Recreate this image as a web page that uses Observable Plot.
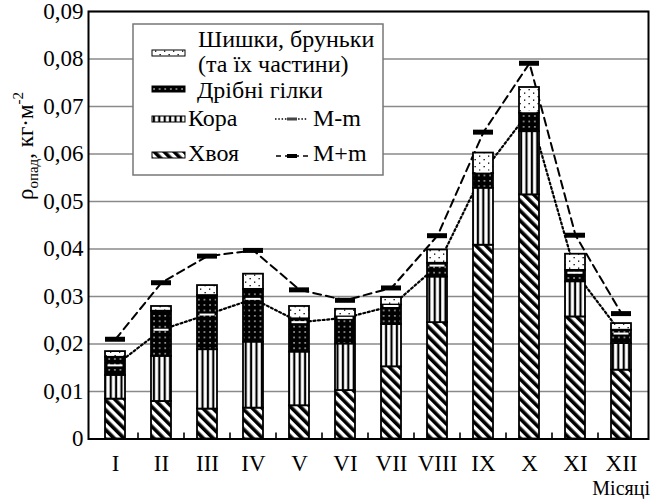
<!DOCTYPE html>
<html><head><meta charset="utf-8">
<script src="https://cdn.jsdelivr.net/npm/d3@7"></script>
<script src="https://cdn.jsdelivr.net/npm/@observablehq/plot@0.6"></script>
<style>
body{margin:0;background:#fff}
#chart{position:relative;width:654px;height:499px}
#chart svg, #chart svg text, #chart svg tspan { font-family: "Liberation Serif", "Times New Roman", serif !important; }
</style>
</head><body><div id="chart"></div>
<script>
// ---- data ----
const months = ["I","II","III","IV","V","VI","VII","VIII","IX","X","XI","XII"];
const hvoya   = [0.0084,0.0079,0.0063,0.0065,0.0070,0.0102,0.0152,0.0245,0.0408,0.0514,0.0257,0.0145];
const kora    = [0.0050,0.0095,0.0125,0.0139,0.0113,0.0098,0.0089,0.0096,0.0120,0.0133,0.0074,0.0056];
const gilky   = [0.0038,0.0095,0.0114,0.0111,0.0070,0.0057,0.0041,0.0029,0.0031,0.0039,0.0024,0.0028];
const shyshky = [0.0012,0.0010,0.0021,0.0032,0.0026,0.0016,0.0016,0.0028,0.0043,0.0054,0.0034,0.0014];
const mMinus  = [0.0155,0.0230,0.0262,0.0295,0.0246,0.0255,0.0280,0.0365,0.0563,0.0690,0.0350,0.0222];
const mPlus   = [0.0210,0.0329,0.0385,0.0397,0.0314,0.0292,0.0318,0.0428,0.0646,0.0791,0.0429,0.0264];
const yTicks  = [0,0.01,0.02,0.03,0.04,0.05,0.06,0.07,0.08,0.09];
const parts   = ["Хвоя","Кора","Дрібні гілки","Шишки, бруньки (та їх частини)"];
const partValues = [hvoya, kora, gilky, shyshky];
const partFills  = ["url(#p-hvoya)","url(#p-kora)","url(#p-gilky)","url(#p-shyshky)"];

const stacked = parts.flatMap((p, j) => months.map((m, i) => ({month: m, part: p, value: partValues[j][i]})));
const stats = months.map((m, i) => ({month: m, lo: mMinus[i], hi: mPlus[i]}));
const fmt = d => d === 0 ? "0" : d.toFixed(2).replace(".", ",");

const plot = Plot.plot({
  width: 654, height: 499,
  marginTop: 11, marginBottom: 60.5, marginLeft: 88, marginRight: 6,
  style: {fontFamily: "Liberation Serif, serif", fontSize: "23px", background: "white", color: "black"},
  x: {domain: months, paddingInner: 0.57, paddingOuter: 0.285, label: null, tickSize: 0, tickPadding: 16},
  y: {domain: [0, 0.09], ticks: yTicks, tickFormat: fmt, label: null, tickSize: 0, tickPadding: 5},
  color: {domain: parts, range: partFills},
  marks: [
    Plot.ruleY(yTicks, {stroke: "#8a8a8a", strokeWidth: 1.6}),
    Plot.line(stats, {x: "month", y: "hi", stroke: "black", strokeWidth: 2, strokeDasharray: "8,5"}),
    Plot.line(stats, {x: "month", y: "lo", stroke: "black", strokeWidth: 2.2, strokeDasharray: "2,2.6"}),
    Plot.barY(stacked, Plot.stackY({x: "month", y: "value", fill: "part", stroke: "black", strokeWidth: 1.8})),
    Plot.tickY(stats, {x: "month", y: "lo", stroke: "white", strokeWidth: 2, insetLeft: 2.5, insetRight: 2.5}),
    Plot.tickY(stats, {x: "month", y: "hi", stroke: "black", strokeWidth: 5}),
    Plot.frame({stroke: "black", strokeWidth: 2})
  ]
});

const svg = d3.select(plot);
const defs = svg.insert("defs", ":first-child");
// Хвоя: diagonal stripes
let p = defs.append("pattern").attr("id","p-hvoya").attr("patternUnits","userSpaceOnUse")
  .attr("width",7).attr("height",7).attr("patternTransform","rotate(-45)");
p.append("rect").attr("width",7).attr("height",7).attr("fill","white");
p.append("rect").attr("width",3.6).attr("height",7).attr("fill","black");
// Кора: vertical stripes
p = defs.append("pattern").attr("id","p-kora").attr("patternUnits","userSpaceOnUse").attr("width",5.4).attr("height",6);
p.append("rect").attr("width",5.4).attr("height",6).attr("fill","white");
p.append("rect").attr("x",1.6).attr("width",2.2).attr("height",6).attr("fill","black");
// Дрібні гілки: black with white dots
p = defs.append("pattern").attr("id","p-gilky").attr("patternUnits","userSpaceOnUse").attr("width",5.6).attr("height",5.4);
p.append("rect").attr("width",5.6).attr("height",5.4).attr("fill","black");
p.append("rect").attr("x",2.2).attr("y",2).attr("width",1.3).attr("height",1.3).attr("fill","white");
// Шишки: white with sparse black dots
p = defs.append("pattern").attr("id","p-shyshky").attr("patternUnits","userSpaceOnUse").attr("width",9).attr("height",7);
p.append("rect").attr("width",9).attr("height",7).attr("fill","white");
p.append("rect").attr("x",2).attr("y",1.5).attr("width",1.3).attr("height",1.3).attr("fill","black");
p.append("rect").attr("x",6.5).attr("y",5).attr("width",1.3).attr("height",1.3).attr("fill","black");

// x-axis small ticks at band boundaries (from Plot's own scales)
const xs = plot.scale("x"), ys = plot.scale("y");
const y0 = ys.apply(0);
const half = (xs.step - xs.bandwidth) / 2;
svg.append("g").selectAll("line").data(months.slice(1)).join("line")
  .attr("x1", m => xs.apply(m) - half).attr("x2", m => xs.apply(m) - half)
  .attr("y1", y0).attr("y2", y0 - 6).attr("stroke", "black").attr("stroke-width", 1.6);

// y-axis title
const yt = svg.append("text").attr("transform","translate(33,146) rotate(-90)").attr("text-anchor","middle")
  .style("font-size","23px").attr("fill","black");
yt.append("tspan").text("ρ");
yt.append("tspan").attr("dy",5).style("font-size","15px").text("опад");
yt.append("tspan").attr("dy",-5).text(", кг·м");
yt.append("tspan").attr("dy",-10).style("font-size","15px").text("-2");

// x-axis title
svg.append("text").attr("x",650).attr("y",494.5).attr("text-anchor","end").style("font-size","20px").attr("fill","black").text("Місяці");

// legend
const lg = svg.append("g").style("font-size","24px").attr("fill","black").attr("text-anchor","start");
lg.append("rect").attr("x",133).attr("y",24).attr("width",250).attr("height",151)
  .attr("fill","white").attr("stroke","#777").attr("stroke-width",1.5);
const sw = (y, fill) => lg.append("rect").attr("x",152).attr("y",y).attr("width",33).attr("height",6)
  .attr("fill",fill).attr("stroke","black").attr("stroke-width",1);
sw(50, partFills[3]); sw(86, partFills[2]); sw(116, partFills[1]); sw(152, partFills[0]);
const lt = (x, y, s) => lg.append("text").attr("x",x).attr("y",y).attr("text-anchor","start").text(s);
lt(198, 47, "Шишки, бруньки");
lt(198, 72, "(та їх частини)");
lt(197, 98, "Дрібні гілки");
lt(188, 126, "Кора");
lt(188, 161, "Хвоя");
lg.append("line").attr("x1",275).attr("x2",308).attr("y1",119).attr("y2",119).attr("stroke","black")
  .attr("stroke-width",1.5).attr("stroke-dasharray","1.5,1.8");
lg.append("rect").attr("x",287).attr("y",117.5).attr("width",10).attr("height",3).attr("fill","#444");
lg.append("line").attr("x1",276).attr("x2",308).attr("y1",156).attr("y2",156).attr("stroke","black")
  .attr("stroke-width",1.6).attr("stroke-dasharray","5,4");
lg.append("rect").attr("x",287).attr("y",154).attr("width",10).attr("height",4).attr("fill","black");
lt(313, 126, "M-m");
lt(313, 161, "M+m");

document.getElementById("chart").appendChild(plot);
</script>
</body></html>
